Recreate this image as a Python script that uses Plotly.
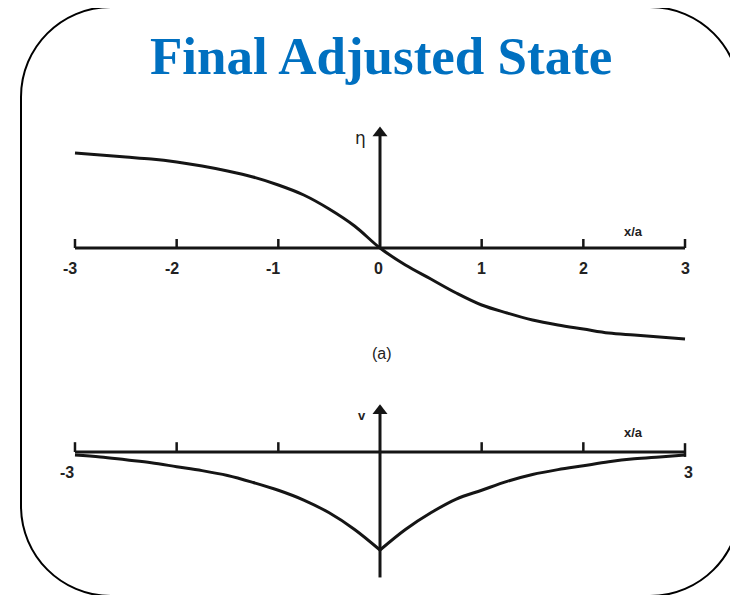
import plotly.graph_objects as go

# values (x in units of a)
x_grid = [-3, -2.75, -2.5, -2.25, -2, -1.75, -1.5, -1.25, -1, -0.75, -0.5, -0.25, 0,
          0.25, 0.5, 0.75, 1, 1.25, 1.5, 1.75, 2, 2.25, 2.5, 2.75, 3]
eta = [0.95, 0.93, 0.91, 0.89, 0.86, 0.82, 0.77, 0.71, 0.63, 0.53, 0.39, 0.22, 0.0,
       -0.17, -0.31, -0.45, -0.57, -0.65, -0.72, -0.77, -0.81, -0.85, -0.87, -0.89, -0.91]
v = [-0.03, -0.05, -0.08, -0.11, -0.15, -0.19, -0.24, -0.31, -0.39, -0.49, -0.62, -0.79, -1.0,
     -0.79, -0.62, -0.48, -0.39, -0.30, -0.23, -0.18, -0.14, -0.10, -0.07, -0.05, -0.03]

tick_values = [-3, -2, -1, 0, 1, 2, 3]
tick_labels = ['-3', '-2', '-1', '0', '1', '2', '3']
end_labels = ['-3', '3']

# the page puts the figure 8px in from the window corner
OFF = 8
W, H = 738 - OFF, 595 - OFF
INK = '#151515'
LABEL_FONT = dict(family='Liberation Sans', size=16, color='#222222')


def px(x):
    return (x - OFF) / W


def py(y):
    return 1 - (y - OFF) / H


def segments(xs, y0, y1):
    sx, sy = [], []
    for t in xs:
        sx += [t, t, None]
        sy += [y0, y1, None]
    return sx, sy


def line(x, y, yaxis, width=3, shape='linear'):
    return go.Scatter(x=x, y=y, mode='lines', line_shape=shape,
                      line=dict(color=INK, width=width), yaxis=yaxis)


mid = x_grid.index(0)
fig = go.Figure()

# ---- top panel: eta ----
fig.add_trace(line([tick_values[0], tick_values[-1]], [0, 0], 'y'))
tx, ty = segments([t for t in tick_values if t != 0], 0, 0.09)
fig.add_trace(line(tx, ty, 'y', width=2.5))
fig.add_trace(line([0, 0], [0, 1.15], 'y'))
fig.add_trace(go.Scatter(x=[0], y=[1.15], mode='markers',
                         marker=dict(symbol='triangle-up', size=13, color=INK), yaxis='y'))
fig.add_trace(line(x_grid, eta, 'y', shape='spline'))

# ---- bottom panel: v ----
fig.add_trace(line([tick_values[0], tick_values[-1]], [0, 0], 'y2'))
tx, ty = segments([t for t in tick_values if t not in (0, 3)], 0, 0.1)
fig.add_trace(line(tx, ty, 'y2', width=2.5))
fig.add_trace(line([3, 3], [-0.05, 0.09], 'y2', width=2.5))
fig.add_trace(line([0, 0], [-1.28, 0.42], 'y2'))
fig.add_trace(go.Scatter(x=[0], y=[0.42], mode='markers',
                         marker=dict(symbol='triangle-up', size=13, color=INK), yaxis='y2'))
fig.add_trace(line(x_grid[:mid + 1], v[:mid + 1], 'y2', shape='spline'))
fig.add_trace(line(x_grid[mid:], v[mid:], 'y2', shape='spline'))

annotations = []
for t, lab in zip(tick_values, tick_labels):
    annotations.append(dict(x=t, y=-0.2, xref='x', yref='y', text='<b>%s</b>' % lab,
                            showarrow=False, font=LABEL_FONT,
                            xshift=-5 if t < 0 else (-2 if t == 0 else 0)))
for t, lab in zip([tick_values[0], tick_values[-1]], end_labels):
    annotations.append(dict(x=t, y=-0.21, xref='x', yref='y2', text='<b>%s</b>' % lab,
                            showarrow=False, font=LABEL_FONT,
                            xshift=-8 if t < 0 else 3))
annotations += [
    dict(x=2.49, y=0.17, xref='x', yref='y', text='<b>x/a</b>', showarrow=False,
         font=dict(family='Liberation Sans', size=13, color='#222222')),
    dict(x=2.49, y=0.2, xref='x', yref='y2', text='<b>x/a</b>', showarrow=False,
         font=dict(family='Liberation Sans', size=13, color='#222222')),
    dict(x=-0.19, y=1.1, xref='x', yref='y', text='η', showarrow=False,
         font=dict(family='DejaVu Sans', size=17, color='#222222')),
    dict(x=-0.18, y=0.37, xref='x', yref='y2', text='<b>v</b>', showarrow=False,
         font=dict(family='Liberation Sans', size=13, color='#222222')),
    dict(x=px(382), y=py(353), xref='paper', yref='paper', text='(a)', showarrow=False,
         yanchor='middle', font=dict(family='Liberation Sans', size=16, color='#222222')),
    dict(x=px(381), y=py(56), xref='paper', yref='paper', text='<b>Final Adjusted State</b>',
         showarrow=False, xanchor='center', yanchor='middle',
         font=dict(family='Liberation Serif', size=53, color='#0070C0')),
]

# rounded frame (partly outside the picture on the right and bottom)
x0, y0, x1, y1, r = 21, 7, 740, 596, 90
k = 0.5523 * r


def pt(x, y):
    return '%.5f,%.5f' % (px(x), py(y))


frame = ('M ' + pt(x0 + r, y0) + ' L ' + pt(x1 - r, y0) +
         ' C ' + pt(x1 - r + k, y0) + ' ' + pt(x1, y0 + r - k) + ' ' + pt(x1, y0 + r) +
         ' L ' + pt(x1, y1 - r) +
         ' C ' + pt(x1, y1 - r + k) + ' ' + pt(x1 - r + k, y1) + ' ' + pt(x1 - r, y1) +
         ' L ' + pt(x0 + r, y1) +
         ' C ' + pt(x0 + r - k, y1) + ' ' + pt(x0, y1 - r + k) + ' ' + pt(x0, y1 - r) +
         ' L ' + pt(x0, y0 + r) +
         ' C ' + pt(x0, y0 + r - k) + ' ' + pt(x0 + r - k, y0) + ' ' + pt(x0 + r, y0) + ' Z')

fig.update_layout(
    width=W, height=H,
    margin=dict(l=0, r=0, t=0, b=0),
    paper_bgcolor='white', plot_bgcolor='rgba(0,0,0,0)',
    showlegend=False,
    xaxis=dict(domain=[0, 1], range=[(OFF - 380) / 101.67, (738 - 380) / 101.67], visible=False),
    yaxis=dict(domain=[py(360), py(110)], range=[-1.12, 1.38], visible=False),
    yaxis2=dict(domain=[py(590), py(395)], range=[-1.408, 0.5816], visible=False, anchor='x'),
    annotations=annotations,
    shapes=[dict(type='path', path=frame, xref='paper', yref='paper',
                 line=dict(color='black', width=2))],
)

fig.write_html("out.html")
